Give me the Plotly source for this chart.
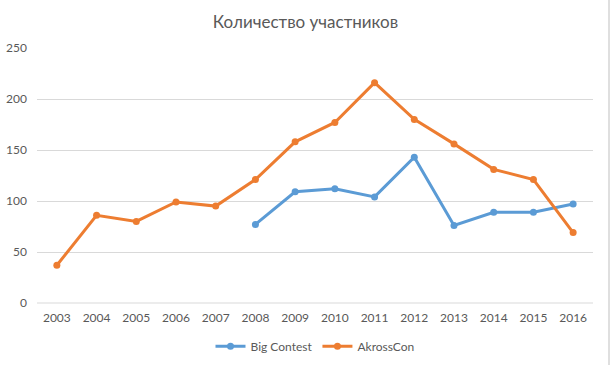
import plotly.graph_objects as go

years = ["2003", "2004", "2005", "2006", "2007", "2008", "2009", "2010",
         "2011", "2012", "2013", "2014", "2015", "2016"]
big_contest = [None, None, None, None, None, 77, 109, 112, 104, 143, 76, 89, 89, 97]
akrosscon = [37, 86, 80, 99, 95, 121, 158, 177, 216, 180, 156, 131, 121, 69]

BLUE = "#5b9bd5"
ORANGE = "#ed7d31"
TXT = "#595959"
FONT = "Lato"

fig = go.Figure()
fig.add_trace(go.Scatter(x=years, y=big_contest, name="Big Contest", mode="lines+markers",
                         line=dict(color=BLUE, width=3), marker=dict(size=7, color=BLUE),
                         connectgaps=False))
fig.add_trace(go.Scatter(x=years, y=akrosscon, name="AkrossCon", mode="lines+markers",
                         line=dict(color=ORANGE, width=3), marker=dict(size=7, color=ORANGE)))

fig.update_layout(
    width=611, height=365,
    margin=dict(l=37, r=18, t=48, b=62, autoexpand=False),
    paper_bgcolor="white", plot_bgcolor="white",
    title=dict(text="Количество участников", x=0.5, xanchor="center",
               y=1 - 22 / 365, yanchor="middle",
               font=dict(family=FONT, size=17, color=TXT)),
    font=dict(family=FONT, size=12, color=TXT),
    xaxis=dict(type="category", range=[-0.5, 13.5], showgrid=False, showline=False,
               ticks="", tickfont=dict(size=12, color=TXT), zeroline=False,
               ticklabelstandoff=6, automargin=False),
    yaxis=dict(range=[0, 250], dtick=50, showgrid=True, gridcolor="#d9d9d9", gridwidth=1,
               zeroline=False, showline=False, ticks="", ticklabelstandoff=9,
               tickfont=dict(size=12, color=TXT), automargin=False),
    legend=dict(orientation="h", x=0.5, xanchor="center", y=-0.17, yanchor="middle",
                font=dict(size=12, color=TXT), itemwidth=30),
    showlegend=True,
)
fig.add_shape(type="line", xref="paper", yref="paper", x0=0, x1=1, y0=0, y1=0,
              line=dict(color="#d9d9d9", width=1))
xe = (609 - 37) / 556
fig.add_shape(type="line", xref="paper", yref="paper",
              x0=xe, x1=xe, y0=(303 - 365) / 255, y1=303 / 255,
              line=dict(color="#bfbfbf", width=1))
fig.write_html("out.html", config={"displayModeBar": False},
               post_script="document.body.style.margin='0';document.body.style.overflow='hidden';")
